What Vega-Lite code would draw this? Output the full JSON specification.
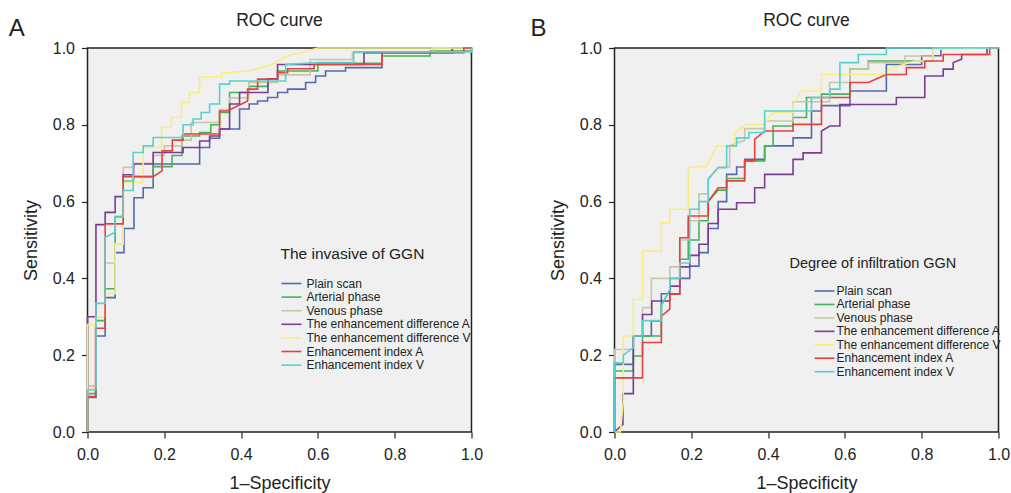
{
"$schema":"https://vega.github.io/schema/vega-lite/v6.json",
"background":"white",
"padding":{"left":7.5,"top":11,"right":0,"bottom":0},
"spacing":143,
"bounds":"flush",
"config":{
 "font":"Liberation Sans",
 "view":{"fill":"#f0f0f0","stroke":"#222222","strokeWidth":1.5},
 "axis":{"grid":false,"domain":false,"tickColor":"#222222","tickSize":6,"tickWidth":1.2,"labelFontSize":16,"labelColor":"#222222","titleFontSize":18,"titleFontWeight":"normal","titleColor":"#222222","labelPadding":7,"labelFlush":false},
 "legend":{"titleFontWeight":"normal","titleColor":"#222222","labelColor":"#222222","labelFontSize":12,"labelLimit":400,"symbolSize":100,"symbolStrokeWidth":1.6,"padding":0}
},
"resolve":{"scale":{"color":"independent"},"legend":{"color":"independent"}},
"datasets":{
"A":[
{"s":"Plain scan","i":0,"fpr":0,"tpr":0},{"s":"Plain scan","i":1,"fpr":0,"tpr":0.09},{"s":"Plain scan","i":2,"fpr":0.022,"tpr":0.09},{"s":"Plain scan","i":3,"fpr":0.022,"tpr":0.25},{"s":"Plain scan","i":4,"fpr":0.046,"tpr":0.25},{"s":"Plain scan","i":5,"fpr":0.046,"tpr":0.35},{"s":"Plain scan","i":6,"fpr":0.072,"tpr":0.35},{"s":"Plain scan","i":7,"fpr":0.072,"tpr":0.467},{"s":"Plain scan","i":8,"fpr":0.095,"tpr":0.467},{"s":"Plain scan","i":9,"fpr":0.095,"tpr":0.53},{"s":"Plain scan","i":10,"fpr":0.121,"tpr":0.53},{"s":"Plain scan","i":11,"fpr":0.121,"tpr":0.61},{"s":"Plain scan","i":12,"fpr":0.145,"tpr":0.61},{"s":"Plain scan","i":13,"fpr":0.145,"tpr":0.636},{"s":"Plain scan","i":14,"fpr":0.171,"tpr":0.636},{"s":"Plain scan","i":15,"fpr":0.171,"tpr":0.698},{"s":"Plain scan","i":16,"fpr":0.292,"tpr":0.698},{"s":"Plain scan","i":17,"fpr":0.292,"tpr":0.741},{"s":"Plain scan","i":18,"fpr":0.318,"tpr":0.741},{"s":"Plain scan","i":19,"fpr":0.318,"tpr":0.765},{"s":"Plain scan","i":20,"fpr":0.344,"tpr":0.765},{"s":"Plain scan","i":21,"fpr":0.344,"tpr":0.789},{"s":"Plain scan","i":22,"fpr":0.396,"tpr":0.789},{"s":"Plain scan","i":23,"fpr":0.396,"tpr":0.841},{"s":"Plain scan","i":24,"fpr":0.421,"tpr":0.841},{"s":"Plain scan","i":25,"fpr":0.421,"tpr":0.854},{"s":"Plain scan","i":26,"fpr":0.443,"tpr":0.854},{"s":"Plain scan","i":27,"fpr":0.443,"tpr":0.862},{"s":"Plain scan","i":28,"fpr":0.469,"tpr":0.862},{"s":"Plain scan","i":29,"fpr":0.469,"tpr":0.871},{"s":"Plain scan","i":30,"fpr":0.495,"tpr":0.871},{"s":"Plain scan","i":31,"fpr":0.495,"tpr":0.884},{"s":"Plain scan","i":32,"fpr":0.521,"tpr":0.884},{"s":"Plain scan","i":33,"fpr":0.521,"tpr":0.893},{"s":"Plain scan","i":34,"fpr":0.568,"tpr":0.893},{"s":"Plain scan","i":35,"fpr":0.568,"tpr":0.91},{"s":"Plain scan","i":36,"fpr":0.594,"tpr":0.91},{"s":"Plain scan","i":37,"fpr":0.594,"tpr":0.927},{"s":"Plain scan","i":38,"fpr":0.62,"tpr":0.927},{"s":"Plain scan","i":39,"fpr":0.62,"tpr":0.94},{"s":"Plain scan","i":40,"fpr":0.672,"tpr":0.94},{"s":"Plain scan","i":41,"fpr":0.672,"tpr":0.949},{"s":"Plain scan","i":42,"fpr":0.767,"tpr":0.949},{"s":"Plain scan","i":43,"fpr":0.767,"tpr":0.99},{"s":"Plain scan","i":44,"fpr":0.95,"tpr":0.99},{"s":"Plain scan","i":45,"fpr":0.95,"tpr":1},{"s":"Plain scan","i":46,"fpr":1,"tpr":1},
{"s":"Arterial phase","i":0,"fpr":0,"tpr":0},{"s":"Arterial phase","i":1,"fpr":0,"tpr":0.1},{"s":"Arterial phase","i":2,"fpr":0.022,"tpr":0.1},{"s":"Arterial phase","i":3,"fpr":0.022,"tpr":0.29},{"s":"Arterial phase","i":4,"fpr":0.046,"tpr":0.29},{"s":"Arterial phase","i":5,"fpr":0.046,"tpr":0.373},{"s":"Arterial phase","i":6,"fpr":0.072,"tpr":0.373},{"s":"Arterial phase","i":7,"fpr":0.072,"tpr":0.561},{"s":"Arterial phase","i":8,"fpr":0.093,"tpr":0.561},{"s":"Arterial phase","i":9,"fpr":0.093,"tpr":0.653},{"s":"Arterial phase","i":10,"fpr":0.12,"tpr":0.653},{"s":"Arterial phase","i":11,"fpr":0.12,"tpr":0.665},{"s":"Arterial phase","i":12,"fpr":0.171,"tpr":0.665},{"s":"Arterial phase","i":13,"fpr":0.171,"tpr":0.691},{"s":"Arterial phase","i":14,"fpr":0.22,"tpr":0.691},{"s":"Arterial phase","i":15,"fpr":0.22,"tpr":0.72},{"s":"Arterial phase","i":16,"fpr":0.246,"tpr":0.72},{"s":"Arterial phase","i":17,"fpr":0.246,"tpr":0.771},{"s":"Arterial phase","i":18,"fpr":0.292,"tpr":0.771},{"s":"Arterial phase","i":19,"fpr":0.292,"tpr":0.78},{"s":"Arterial phase","i":20,"fpr":0.321,"tpr":0.78},{"s":"Arterial phase","i":21,"fpr":0.321,"tpr":0.8},{"s":"Arterial phase","i":22,"fpr":0.344,"tpr":0.8},{"s":"Arterial phase","i":23,"fpr":0.344,"tpr":0.832},{"s":"Arterial phase","i":24,"fpr":0.37,"tpr":0.832},{"s":"Arterial phase","i":25,"fpr":0.37,"tpr":0.884},{"s":"Arterial phase","i":26,"fpr":0.421,"tpr":0.884},{"s":"Arterial phase","i":27,"fpr":0.421,"tpr":0.9},{"s":"Arterial phase","i":28,"fpr":0.47,"tpr":0.9},{"s":"Arterial phase","i":29,"fpr":0.47,"tpr":0.92},{"s":"Arterial phase","i":30,"fpr":0.495,"tpr":0.92},{"s":"Arterial phase","i":31,"fpr":0.495,"tpr":0.94},{"s":"Arterial phase","i":32,"fpr":0.6,"tpr":0.94},{"s":"Arterial phase","i":33,"fpr":0.6,"tpr":0.96},{"s":"Arterial phase","i":34,"fpr":0.767,"tpr":0.96},{"s":"Arterial phase","i":35,"fpr":0.767,"tpr":0.979},{"s":"Arterial phase","i":36,"fpr":0.892,"tpr":0.979},{"s":"Arterial phase","i":37,"fpr":0.892,"tpr":0.992},{"s":"Arterial phase","i":38,"fpr":1,"tpr":0.992},{"s":"Arterial phase","i":39,"fpr":1,"tpr":1},
{"s":"Venous phase","i":0,"fpr":0,"tpr":0},{"s":"Venous phase","i":1,"fpr":0,"tpr":0.12},{"s":"Venous phase","i":2,"fpr":0.022,"tpr":0.12},{"s":"Venous phase","i":3,"fpr":0.022,"tpr":0.3},{"s":"Venous phase","i":4,"fpr":0.046,"tpr":0.3},{"s":"Venous phase","i":5,"fpr":0.046,"tpr":0.44},{"s":"Venous phase","i":6,"fpr":0.072,"tpr":0.44},{"s":"Venous phase","i":7,"fpr":0.072,"tpr":0.49},{"s":"Venous phase","i":8,"fpr":0.093,"tpr":0.49},{"s":"Venous phase","i":9,"fpr":0.093,"tpr":0.689},{"s":"Venous phase","i":10,"fpr":0.12,"tpr":0.689},{"s":"Venous phase","i":11,"fpr":0.12,"tpr":0.7},{"s":"Venous phase","i":12,"fpr":0.171,"tpr":0.7},{"s":"Venous phase","i":13,"fpr":0.171,"tpr":0.72},{"s":"Venous phase","i":14,"fpr":0.2,"tpr":0.72},{"s":"Venous phase","i":15,"fpr":0.2,"tpr":0.745},{"s":"Venous phase","i":16,"fpr":0.246,"tpr":0.745},{"s":"Venous phase","i":17,"fpr":0.246,"tpr":0.76},{"s":"Venous phase","i":18,"fpr":0.27,"tpr":0.76},{"s":"Venous phase","i":19,"fpr":0.27,"tpr":0.806},{"s":"Venous phase","i":20,"fpr":0.344,"tpr":0.806},{"s":"Venous phase","i":21,"fpr":0.344,"tpr":0.84},{"s":"Venous phase","i":22,"fpr":0.37,"tpr":0.84},{"s":"Venous phase","i":23,"fpr":0.37,"tpr":0.87},{"s":"Venous phase","i":24,"fpr":0.42,"tpr":0.87},{"s":"Venous phase","i":25,"fpr":0.42,"tpr":0.91},{"s":"Venous phase","i":26,"fpr":0.495,"tpr":0.91},{"s":"Venous phase","i":27,"fpr":0.495,"tpr":0.93},{"s":"Venous phase","i":28,"fpr":0.58,"tpr":0.93},{"s":"Venous phase","i":29,"fpr":0.58,"tpr":0.97},{"s":"Venous phase","i":30,"fpr":0.69,"tpr":0.97},{"s":"Venous phase","i":31,"fpr":0.69,"tpr":0.988},{"s":"Venous phase","i":32,"fpr":0.9,"tpr":0.988},{"s":"Venous phase","i":33,"fpr":0.9,"tpr":1},{"s":"Venous phase","i":34,"fpr":1,"tpr":1},
{"s":"The enhancement difference A","i":0,"fpr":0,"tpr":0},{"s":"The enhancement difference A","i":1,"fpr":0,"tpr":0.3},{"s":"The enhancement difference A","i":2,"fpr":0.022,"tpr":0.3},{"s":"The enhancement difference A","i":3,"fpr":0.022,"tpr":0.54},{"s":"The enhancement difference A","i":4,"fpr":0.046,"tpr":0.54},{"s":"The enhancement difference A","i":5,"fpr":0.046,"tpr":0.572},{"s":"The enhancement difference A","i":6,"fpr":0.072,"tpr":0.572},{"s":"The enhancement difference A","i":7,"fpr":0.072,"tpr":0.613},{"s":"The enhancement difference A","i":8,"fpr":0.093,"tpr":0.613},{"s":"The enhancement difference A","i":9,"fpr":0.093,"tpr":0.67},{"s":"The enhancement difference A","i":10,"fpr":0.12,"tpr":0.67},{"s":"The enhancement difference A","i":11,"fpr":0.12,"tpr":0.698},{"s":"The enhancement difference A","i":12,"fpr":0.171,"tpr":0.698},{"s":"The enhancement difference A","i":13,"fpr":0.171,"tpr":0.728},{"s":"The enhancement difference A","i":14,"fpr":0.249,"tpr":0.728},{"s":"The enhancement difference A","i":15,"fpr":0.249,"tpr":0.741},{"s":"The enhancement difference A","i":16,"fpr":0.292,"tpr":0.741},{"s":"The enhancement difference A","i":17,"fpr":0.292,"tpr":0.758},{"s":"The enhancement difference A","i":18,"fpr":0.318,"tpr":0.758},{"s":"The enhancement difference A","i":19,"fpr":0.318,"tpr":0.771},{"s":"The enhancement difference A","i":20,"fpr":0.344,"tpr":0.771},{"s":"The enhancement difference A","i":21,"fpr":0.344,"tpr":0.789},{"s":"The enhancement difference A","i":22,"fpr":0.37,"tpr":0.789},{"s":"The enhancement difference A","i":23,"fpr":0.37,"tpr":0.854},{"s":"The enhancement difference A","i":24,"fpr":0.396,"tpr":0.854},{"s":"The enhancement difference A","i":25,"fpr":0.396,"tpr":0.884},{"s":"The enhancement difference A","i":26,"fpr":0.47,"tpr":0.884},{"s":"The enhancement difference A","i":27,"fpr":0.47,"tpr":0.92},{"s":"The enhancement difference A","i":28,"fpr":0.495,"tpr":0.92},{"s":"The enhancement difference A","i":29,"fpr":0.495,"tpr":0.957},{"s":"The enhancement difference A","i":30,"fpr":0.72,"tpr":0.957},{"s":"The enhancement difference A","i":31,"fpr":0.72,"tpr":0.988},{"s":"The enhancement difference A","i":32,"fpr":0.95,"tpr":0.988},{"s":"The enhancement difference A","i":33,"fpr":0.95,"tpr":1},{"s":"The enhancement difference A","i":34,"fpr":1,"tpr":1},
{"s":"The enhancement difference V","i":0,"fpr":0,"tpr":0},{"s":"The enhancement difference V","i":1,"fpr":0,"tpr":0.28},{"s":"The enhancement difference V","i":2,"fpr":0.022,"tpr":0.28},{"s":"The enhancement difference V","i":3,"fpr":0.022,"tpr":0.3},{"s":"The enhancement difference V","i":4,"fpr":0.046,"tpr":0.3},{"s":"The enhancement difference V","i":5,"fpr":0.046,"tpr":0.36},{"s":"The enhancement difference V","i":6,"fpr":0.072,"tpr":0.36},{"s":"The enhancement difference V","i":7,"fpr":0.072,"tpr":0.49},{"s":"The enhancement difference V","i":8,"fpr":0.093,"tpr":0.49},{"s":"The enhancement difference V","i":9,"fpr":0.093,"tpr":0.65},{"s":"The enhancement difference V","i":10,"fpr":0.145,"tpr":0.65},{"s":"The enhancement difference V","i":11,"fpr":0.145,"tpr":0.741},{"s":"The enhancement difference V","i":12,"fpr":0.193,"tpr":0.741},{"s":"The enhancement difference V","i":13,"fpr":0.193,"tpr":0.793},{"s":"The enhancement difference V","i":14,"fpr":0.218,"tpr":0.793},{"s":"The enhancement difference V","i":15,"fpr":0.218,"tpr":0.819},{"s":"The enhancement difference V","i":16,"fpr":0.245,"tpr":0.819},{"s":"The enhancement difference V","i":17,"fpr":0.245,"tpr":0.858},{"s":"The enhancement difference V","i":18,"fpr":0.265,"tpr":0.858},{"s":"The enhancement difference V","i":19,"fpr":0.265,"tpr":0.884},{"s":"The enhancement difference V","i":20,"fpr":0.292,"tpr":0.884},{"s":"The enhancement difference V","i":21,"fpr":0.292,"tpr":0.925},{"s":"The enhancement difference V","i":22,"fpr":0.35,"tpr":0.925},{"s":"The enhancement difference V","i":23,"fpr":0.35,"tpr":0.935},{"s":"The enhancement difference V","i":24,"fpr":0.42,"tpr":0.94},{"s":"The enhancement difference V","i":25,"fpr":0.48,"tpr":0.957},{"s":"The enhancement difference V","i":26,"fpr":0.52,"tpr":0.979},{"s":"The enhancement difference V","i":27,"fpr":0.573,"tpr":0.992},{"s":"The enhancement difference V","i":28,"fpr":0.6,"tpr":1},{"s":"The enhancement difference V","i":29,"fpr":1,"tpr":1},
{"s":"Enhancement index A","i":0,"fpr":0,"tpr":0},{"s":"Enhancement index A","i":1,"fpr":0,"tpr":0.092},{"s":"Enhancement index A","i":2,"fpr":0.021,"tpr":0.092},{"s":"Enhancement index A","i":3,"fpr":0.021,"tpr":0.27},{"s":"Enhancement index A","i":4,"fpr":0.046,"tpr":0.27},{"s":"Enhancement index A","i":5,"fpr":0.046,"tpr":0.542},{"s":"Enhancement index A","i":6,"fpr":0.093,"tpr":0.542},{"s":"Enhancement index A","i":7,"fpr":0.093,"tpr":0.665},{"s":"Enhancement index A","i":8,"fpr":0.171,"tpr":0.665},{"s":"Enhancement index A","i":9,"fpr":0.194,"tpr":0.68},{"s":"Enhancement index A","i":10,"fpr":0.194,"tpr":0.732},{"s":"Enhancement index A","i":11,"fpr":0.221,"tpr":0.732},{"s":"Enhancement index A","i":12,"fpr":0.221,"tpr":0.76},{"s":"Enhancement index A","i":13,"fpr":0.249,"tpr":0.76},{"s":"Enhancement index A","i":14,"fpr":0.249,"tpr":0.776},{"s":"Enhancement index A","i":15,"fpr":0.344,"tpr":0.776},{"s":"Enhancement index A","i":16,"fpr":0.344,"tpr":0.836},{"s":"Enhancement index A","i":17,"fpr":0.365,"tpr":0.836},{"s":"Enhancement index A","i":18,"fpr":0.417,"tpr":0.862},{"s":"Enhancement index A","i":19,"fpr":0.417,"tpr":0.893},{"s":"Enhancement index A","i":20,"fpr":0.443,"tpr":0.893},{"s":"Enhancement index A","i":21,"fpr":0.443,"tpr":0.919},{"s":"Enhancement index A","i":22,"fpr":0.495,"tpr":0.919},{"s":"Enhancement index A","i":23,"fpr":0.495,"tpr":0.936},{"s":"Enhancement index A","i":24,"fpr":0.521,"tpr":0.936},{"s":"Enhancement index A","i":25,"fpr":0.521,"tpr":0.946},{"s":"Enhancement index A","i":26,"fpr":0.59,"tpr":0.946},{"s":"Enhancement index A","i":27,"fpr":0.59,"tpr":0.957},{"s":"Enhancement index A","i":28,"fpr":0.767,"tpr":0.957},{"s":"Enhancement index A","i":29,"fpr":0.767,"tpr":0.988},{"s":"Enhancement index A","i":30,"fpr":0.98,"tpr":0.988},{"s":"Enhancement index A","i":31,"fpr":0.98,"tpr":1},{"s":"Enhancement index A","i":32,"fpr":1,"tpr":1},
{"s":"Enhancement index V","i":0,"fpr":0,"tpr":0},{"s":"Enhancement index V","i":1,"fpr":0,"tpr":0.11},{"s":"Enhancement index V","i":2,"fpr":0.022,"tpr":0.11},{"s":"Enhancement index V","i":3,"fpr":0.022,"tpr":0.335},{"s":"Enhancement index V","i":4,"fpr":0.046,"tpr":0.335},{"s":"Enhancement index V","i":5,"fpr":0.046,"tpr":0.507},{"s":"Enhancement index V","i":6,"fpr":0.072,"tpr":0.52},{"s":"Enhancement index V","i":7,"fpr":0.072,"tpr":0.56},{"s":"Enhancement index V","i":8,"fpr":0.093,"tpr":0.56},{"s":"Enhancement index V","i":9,"fpr":0.093,"tpr":0.629},{"s":"Enhancement index V","i":10,"fpr":0.119,"tpr":0.629},{"s":"Enhancement index V","i":11,"fpr":0.119,"tpr":0.728},{"s":"Enhancement index V","i":12,"fpr":0.145,"tpr":0.728},{"s":"Enhancement index V","i":13,"fpr":0.145,"tpr":0.745},{"s":"Enhancement index V","i":14,"fpr":0.171,"tpr":0.745},{"s":"Enhancement index V","i":15,"fpr":0.171,"tpr":0.767},{"s":"Enhancement index V","i":16,"fpr":0.249,"tpr":0.767},{"s":"Enhancement index V","i":17,"fpr":0.249,"tpr":0.8},{"s":"Enhancement index V","i":18,"fpr":0.275,"tpr":0.8},{"s":"Enhancement index V","i":19,"fpr":0.275,"tpr":0.815},{"s":"Enhancement index V","i":20,"fpr":0.296,"tpr":0.815},{"s":"Enhancement index V","i":21,"fpr":0.296,"tpr":0.832},{"s":"Enhancement index V","i":22,"fpr":0.318,"tpr":0.832},{"s":"Enhancement index V","i":23,"fpr":0.318,"tpr":0.854},{"s":"Enhancement index V","i":24,"fpr":0.344,"tpr":0.854},{"s":"Enhancement index V","i":25,"fpr":0.344,"tpr":0.906},{"s":"Enhancement index V","i":26,"fpr":0.37,"tpr":0.906},{"s":"Enhancement index V","i":27,"fpr":0.37,"tpr":0.914},{"s":"Enhancement index V","i":28,"fpr":0.516,"tpr":0.914},{"s":"Enhancement index V","i":29,"fpr":0.516,"tpr":0.957},{"s":"Enhancement index V","i":30,"fpr":0.6,"tpr":0.962},{"s":"Enhancement index V","i":31,"fpr":0.693,"tpr":0.962},{"s":"Enhancement index V","i":32,"fpr":0.693,"tpr":0.99},{"s":"Enhancement index V","i":33,"fpr":1,"tpr":0.99},{"s":"Enhancement index V","i":34,"fpr":1,"tpr":1}
],
"B":[
{"s":"Plain scan","i":0,"fpr":0,"tpr":0},{"s":"Plain scan","i":1,"fpr":0,"tpr":0.176},{"s":"Plain scan","i":2,"fpr":0.049,"tpr":0.176},{"s":"Plain scan","i":3,"fpr":0.049,"tpr":0.25},{"s":"Plain scan","i":4,"fpr":0.096,"tpr":0.25},{"s":"Plain scan","i":5,"fpr":0.096,"tpr":0.289},{"s":"Plain scan","i":6,"fpr":0.122,"tpr":0.289},{"s":"Plain scan","i":7,"fpr":0.122,"tpr":0.36},{"s":"Plain scan","i":8,"fpr":0.17,"tpr":0.36},{"s":"Plain scan","i":9,"fpr":0.17,"tpr":0.4},{"s":"Plain scan","i":10,"fpr":0.196,"tpr":0.4},{"s":"Plain scan","i":11,"fpr":0.196,"tpr":0.432},{"s":"Plain scan","i":12,"fpr":0.22,"tpr":0.432},{"s":"Plain scan","i":13,"fpr":0.22,"tpr":0.467},{"s":"Plain scan","i":14,"fpr":0.244,"tpr":0.467},{"s":"Plain scan","i":15,"fpr":0.244,"tpr":0.53},{"s":"Plain scan","i":16,"fpr":0.27,"tpr":0.53},{"s":"Plain scan","i":17,"fpr":0.27,"tpr":0.6},{"s":"Plain scan","i":18,"fpr":0.292,"tpr":0.6},{"s":"Plain scan","i":19,"fpr":0.292,"tpr":0.671},{"s":"Plain scan","i":20,"fpr":0.318,"tpr":0.671},{"s":"Plain scan","i":21,"fpr":0.318,"tpr":0.69},{"s":"Plain scan","i":22,"fpr":0.339,"tpr":0.69},{"s":"Plain scan","i":23,"fpr":0.339,"tpr":0.71},{"s":"Plain scan","i":24,"fpr":0.391,"tpr":0.71},{"s":"Plain scan","i":25,"fpr":0.391,"tpr":0.745},{"s":"Plain scan","i":26,"fpr":0.465,"tpr":0.745},{"s":"Plain scan","i":27,"fpr":0.465,"tpr":0.766},{"s":"Plain scan","i":28,"fpr":0.513,"tpr":0.766},{"s":"Plain scan","i":29,"fpr":0.513,"tpr":0.836},{"s":"Plain scan","i":30,"fpr":0.539,"tpr":0.836},{"s":"Plain scan","i":31,"fpr":0.539,"tpr":0.85},{"s":"Plain scan","i":32,"fpr":0.613,"tpr":0.85},{"s":"Plain scan","i":33,"fpr":0.613,"tpr":0.888},{"s":"Plain scan","i":34,"fpr":0.708,"tpr":0.888},{"s":"Plain scan","i":35,"fpr":0.708,"tpr":0.957},{"s":"Plain scan","i":36,"fpr":0.8,"tpr":0.957},{"s":"Plain scan","i":37,"fpr":0.8,"tpr":0.98},{"s":"Plain scan","i":38,"fpr":0.85,"tpr":0.98},{"s":"Plain scan","i":39,"fpr":0.85,"tpr":1},{"s":"Plain scan","i":40,"fpr":1,"tpr":1},
{"s":"Arterial phase","i":0,"fpr":0,"tpr":0},{"s":"Arterial phase","i":1,"fpr":0,"tpr":0.159},{"s":"Arterial phase","i":2,"fpr":0.049,"tpr":0.159},{"s":"Arterial phase","i":3,"fpr":0.049,"tpr":0.198},{"s":"Arterial phase","i":4,"fpr":0.073,"tpr":0.198},{"s":"Arterial phase","i":5,"fpr":0.073,"tpr":0.25},{"s":"Arterial phase","i":6,"fpr":0.122,"tpr":0.25},{"s":"Arterial phase","i":7,"fpr":0.122,"tpr":0.33},{"s":"Arterial phase","i":8,"fpr":0.144,"tpr":0.37},{"s":"Arterial phase","i":9,"fpr":0.144,"tpr":0.4},{"s":"Arterial phase","i":10,"fpr":0.17,"tpr":0.4},{"s":"Arterial phase","i":11,"fpr":0.17,"tpr":0.45},{"s":"Arterial phase","i":12,"fpr":0.192,"tpr":0.45},{"s":"Arterial phase","i":13,"fpr":0.192,"tpr":0.5},{"s":"Arterial phase","i":14,"fpr":0.22,"tpr":0.5},{"s":"Arterial phase","i":15,"fpr":0.22,"tpr":0.55},{"s":"Arterial phase","i":16,"fpr":0.244,"tpr":0.55},{"s":"Arterial phase","i":17,"fpr":0.244,"tpr":0.6},{"s":"Arterial phase","i":18,"fpr":0.27,"tpr":0.63},{"s":"Arterial phase","i":19,"fpr":0.292,"tpr":0.63},{"s":"Arterial phase","i":20,"fpr":0.292,"tpr":0.66},{"s":"Arterial phase","i":21,"fpr":0.339,"tpr":0.66},{"s":"Arterial phase","i":22,"fpr":0.339,"tpr":0.706},{"s":"Arterial phase","i":23,"fpr":0.391,"tpr":0.706},{"s":"Arterial phase","i":24,"fpr":0.391,"tpr":0.745},{"s":"Arterial phase","i":25,"fpr":0.413,"tpr":0.745},{"s":"Arterial phase","i":26,"fpr":0.413,"tpr":0.797},{"s":"Arterial phase","i":27,"fpr":0.465,"tpr":0.797},{"s":"Arterial phase","i":28,"fpr":0.465,"tpr":0.819},{"s":"Arterial phase","i":29,"fpr":0.5,"tpr":0.819},{"s":"Arterial phase","i":30,"fpr":0.5,"tpr":0.871},{"s":"Arterial phase","i":31,"fpr":0.539,"tpr":0.871},{"s":"Arterial phase","i":32,"fpr":0.539,"tpr":0.88},{"s":"Arterial phase","i":33,"fpr":0.613,"tpr":0.88},{"s":"Arterial phase","i":34,"fpr":0.613,"tpr":0.945},{"s":"Arterial phase","i":35,"fpr":0.661,"tpr":0.945},{"s":"Arterial phase","i":36,"fpr":0.661,"tpr":0.966},{"s":"Arterial phase","i":37,"fpr":0.83,"tpr":0.966},{"s":"Arterial phase","i":38,"fpr":0.83,"tpr":1},{"s":"Arterial phase","i":39,"fpr":1,"tpr":1},
{"s":"Venous phase","i":0,"fpr":0,"tpr":0},{"s":"Venous phase","i":1,"fpr":0,"tpr":0.215},{"s":"Venous phase","i":2,"fpr":0.049,"tpr":0.215},{"s":"Venous phase","i":3,"fpr":0.049,"tpr":0.25},{"s":"Venous phase","i":4,"fpr":0.073,"tpr":0.25},{"s":"Venous phase","i":5,"fpr":0.073,"tpr":0.324},{"s":"Venous phase","i":6,"fpr":0.096,"tpr":0.324},{"s":"Venous phase","i":7,"fpr":0.096,"tpr":0.4},{"s":"Venous phase","i":8,"fpr":0.144,"tpr":0.4},{"s":"Venous phase","i":9,"fpr":0.144,"tpr":0.43},{"s":"Venous phase","i":10,"fpr":0.17,"tpr":0.43},{"s":"Venous phase","i":11,"fpr":0.17,"tpr":0.5},{"s":"Venous phase","i":12,"fpr":0.192,"tpr":0.5},{"s":"Venous phase","i":13,"fpr":0.192,"tpr":0.55},{"s":"Venous phase","i":14,"fpr":0.22,"tpr":0.55},{"s":"Venous phase","i":15,"fpr":0.22,"tpr":0.62},{"s":"Venous phase","i":16,"fpr":0.244,"tpr":0.62},{"s":"Venous phase","i":17,"fpr":0.244,"tpr":0.66},{"s":"Venous phase","i":18,"fpr":0.27,"tpr":0.69},{"s":"Venous phase","i":19,"fpr":0.3,"tpr":0.69},{"s":"Venous phase","i":20,"fpr":0.3,"tpr":0.745},{"s":"Venous phase","i":21,"fpr":0.339,"tpr":0.76},{"s":"Venous phase","i":22,"fpr":0.339,"tpr":0.79},{"s":"Venous phase","i":23,"fpr":0.391,"tpr":0.79},{"s":"Venous phase","i":24,"fpr":0.391,"tpr":0.81},{"s":"Venous phase","i":25,"fpr":0.465,"tpr":0.81},{"s":"Venous phase","i":26,"fpr":0.465,"tpr":0.86},{"s":"Venous phase","i":27,"fpr":0.56,"tpr":0.86},{"s":"Venous phase","i":28,"fpr":0.56,"tpr":0.91},{"s":"Venous phase","i":29,"fpr":0.613,"tpr":0.91},{"s":"Venous phase","i":30,"fpr":0.613,"tpr":0.945},{"s":"Venous phase","i":31,"fpr":0.661,"tpr":0.945},{"s":"Venous phase","i":32,"fpr":0.661,"tpr":0.962},{"s":"Venous phase","i":33,"fpr":0.756,"tpr":0.962},{"s":"Venous phase","i":34,"fpr":0.756,"tpr":0.979},{"s":"Venous phase","i":35,"fpr":0.83,"tpr":0.979},{"s":"Venous phase","i":36,"fpr":0.83,"tpr":1},{"s":"Venous phase","i":37,"fpr":1,"tpr":1},
{"s":"The enhancement difference A","i":0,"fpr":0,"tpr":0},{"s":"The enhancement difference A","i":1,"fpr":0.022,"tpr":0.02},{"s":"The enhancement difference A","i":2,"fpr":0.022,"tpr":0.1},{"s":"The enhancement difference A","i":3,"fpr":0.049,"tpr":0.1},{"s":"The enhancement difference A","i":4,"fpr":0.049,"tpr":0.25},{"s":"The enhancement difference A","i":5,"fpr":0.073,"tpr":0.25},{"s":"The enhancement difference A","i":6,"fpr":0.073,"tpr":0.306},{"s":"The enhancement difference A","i":7,"fpr":0.097,"tpr":0.306},{"s":"The enhancement difference A","i":8,"fpr":0.097,"tpr":0.341},{"s":"The enhancement difference A","i":9,"fpr":0.144,"tpr":0.341},{"s":"The enhancement difference A","i":10,"fpr":0.144,"tpr":0.38},{"s":"The enhancement difference A","i":11,"fpr":0.17,"tpr":0.38},{"s":"The enhancement difference A","i":12,"fpr":0.17,"tpr":0.43},{"s":"The enhancement difference A","i":13,"fpr":0.196,"tpr":0.43},{"s":"The enhancement difference A","i":14,"fpr":0.196,"tpr":0.46},{"s":"The enhancement difference A","i":15,"fpr":0.22,"tpr":0.46},{"s":"The enhancement difference A","i":16,"fpr":0.22,"tpr":0.489},{"s":"The enhancement difference A","i":17,"fpr":0.244,"tpr":0.489},{"s":"The enhancement difference A","i":18,"fpr":0.244,"tpr":0.543},{"s":"The enhancement difference A","i":19,"fpr":0.27,"tpr":0.543},{"s":"The enhancement difference A","i":20,"fpr":0.27,"tpr":0.58},{"s":"The enhancement difference A","i":21,"fpr":0.318,"tpr":0.58},{"s":"The enhancement difference A","i":22,"fpr":0.318,"tpr":0.597},{"s":"The enhancement difference A","i":23,"fpr":0.365,"tpr":0.597},{"s":"The enhancement difference A","i":24,"fpr":0.365,"tpr":0.636},{"s":"The enhancement difference A","i":25,"fpr":0.391,"tpr":0.636},{"s":"The enhancement difference A","i":26,"fpr":0.391,"tpr":0.671},{"s":"The enhancement difference A","i":27,"fpr":0.465,"tpr":0.671},{"s":"The enhancement difference A","i":28,"fpr":0.465,"tpr":0.71},{"s":"The enhancement difference A","i":29,"fpr":0.491,"tpr":0.71},{"s":"The enhancement difference A","i":30,"fpr":0.491,"tpr":0.727},{"s":"The enhancement difference A","i":31,"fpr":0.539,"tpr":0.727},{"s":"The enhancement difference A","i":32,"fpr":0.539,"tpr":0.784},{"s":"The enhancement difference A","i":33,"fpr":0.561,"tpr":0.797},{"s":"The enhancement difference A","i":34,"fpr":0.587,"tpr":0.797},{"s":"The enhancement difference A","i":35,"fpr":0.587,"tpr":0.853},{"s":"The enhancement difference A","i":36,"fpr":0.734,"tpr":0.853},{"s":"The enhancement difference A","i":37,"fpr":0.734,"tpr":0.871},{"s":"The enhancement difference A","i":38,"fpr":0.808,"tpr":0.871},{"s":"The enhancement difference A","i":39,"fpr":0.808,"tpr":0.927},{"s":"The enhancement difference A","i":40,"fpr":0.856,"tpr":0.927},{"s":"The enhancement difference A","i":41,"fpr":0.856,"tpr":0.945},{"s":"The enhancement difference A","i":42,"fpr":0.882,"tpr":0.945},{"s":"The enhancement difference A","i":43,"fpr":0.882,"tpr":0.962},{"s":"The enhancement difference A","i":44,"fpr":0.904,"tpr":0.971},{"s":"The enhancement difference A","i":45,"fpr":0.904,"tpr":0.983},{"s":"The enhancement difference A","i":46,"fpr":0.97,"tpr":0.983},{"s":"The enhancement difference A","i":47,"fpr":0.97,"tpr":1},{"s":"The enhancement difference A","i":48,"fpr":1,"tpr":1},
{"s":"The enhancement difference V","i":0,"fpr":0,"tpr":0},{"s":"The enhancement difference V","i":1,"fpr":0.015,"tpr":0},{"s":"The enhancement difference V","i":2,"fpr":0.023,"tpr":0.08},{"s":"The enhancement difference V","i":3,"fpr":0.023,"tpr":0.25},{"s":"The enhancement difference V","i":4,"fpr":0.049,"tpr":0.25},{"s":"The enhancement difference V","i":5,"fpr":0.049,"tpr":0.345},{"s":"The enhancement difference V","i":6,"fpr":0.073,"tpr":0.345},{"s":"The enhancement difference V","i":7,"fpr":0.073,"tpr":0.471},{"s":"The enhancement difference V","i":8,"fpr":0.122,"tpr":0.471},{"s":"The enhancement difference V","i":9,"fpr":0.122,"tpr":0.545},{"s":"The enhancement difference V","i":10,"fpr":0.144,"tpr":0.545},{"s":"The enhancement difference V","i":11,"fpr":0.144,"tpr":0.58},{"s":"The enhancement difference V","i":12,"fpr":0.192,"tpr":0.58},{"s":"The enhancement difference V","i":13,"fpr":0.192,"tpr":0.688},{"s":"The enhancement difference V","i":14,"fpr":0.24,"tpr":0.693},{"s":"The enhancement difference V","i":15,"fpr":0.266,"tpr":0.745},{"s":"The enhancement difference V","i":16,"fpr":0.313,"tpr":0.745},{"s":"The enhancement difference V","i":17,"fpr":0.313,"tpr":0.779},{"s":"The enhancement difference V","i":18,"fpr":0.344,"tpr":0.801},{"s":"The enhancement difference V","i":19,"fpr":0.387,"tpr":0.801},{"s":"The enhancement difference V","i":20,"fpr":0.413,"tpr":0.832},{"s":"The enhancement difference V","i":21,"fpr":0.465,"tpr":0.832},{"s":"The enhancement difference V","i":22,"fpr":0.465,"tpr":0.853},{"s":"The enhancement difference V","i":23,"fpr":0.487,"tpr":0.888},{"s":"The enhancement difference V","i":24,"fpr":0.539,"tpr":0.888},{"s":"The enhancement difference V","i":25,"fpr":0.539,"tpr":0.931},{"s":"The enhancement difference V","i":26,"fpr":0.713,"tpr":0.931},{"s":"The enhancement difference V","i":27,"fpr":0.713,"tpr":0.945},{"s":"The enhancement difference V","i":28,"fpr":0.782,"tpr":0.966},{"s":"The enhancement difference V","i":29,"fpr":0.83,"tpr":0.966},{"s":"The enhancement difference V","i":30,"fpr":0.83,"tpr":0.997},{"s":"The enhancement difference V","i":31,"fpr":1,"tpr":1},
{"s":"Enhancement index A","i":0,"fpr":0,"tpr":0},{"s":"Enhancement index A","i":1,"fpr":0,"tpr":0.141},{"s":"Enhancement index A","i":2,"fpr":0.073,"tpr":0.141},{"s":"Enhancement index A","i":3,"fpr":0.073,"tpr":0.233},{"s":"Enhancement index A","i":4,"fpr":0.122,"tpr":0.233},{"s":"Enhancement index A","i":5,"fpr":0.122,"tpr":0.302},{"s":"Enhancement index A","i":6,"fpr":0.144,"tpr":0.32},{"s":"Enhancement index A","i":7,"fpr":0.144,"tpr":0.359},{"s":"Enhancement index A","i":8,"fpr":0.17,"tpr":0.359},{"s":"Enhancement index A","i":9,"fpr":0.17,"tpr":0.506},{"s":"Enhancement index A","i":10,"fpr":0.192,"tpr":0.506},{"s":"Enhancement index A","i":11,"fpr":0.192,"tpr":0.5625},{"s":"Enhancement index A","i":12,"fpr":0.244,"tpr":0.5625},{"s":"Enhancement index A","i":13,"fpr":0.244,"tpr":0.6},{"s":"Enhancement index A","i":14,"fpr":0.27,"tpr":0.636},{"s":"Enhancement index A","i":15,"fpr":0.292,"tpr":0.636},{"s":"Enhancement index A","i":16,"fpr":0.292,"tpr":0.654},{"s":"Enhancement index A","i":17,"fpr":0.339,"tpr":0.654},{"s":"Enhancement index A","i":18,"fpr":0.339,"tpr":0.706},{"s":"Enhancement index A","i":19,"fpr":0.365,"tpr":0.706},{"s":"Enhancement index A","i":20,"fpr":0.365,"tpr":0.762},{"s":"Enhancement index A","i":21,"fpr":0.391,"tpr":0.784},{"s":"Enhancement index A","i":22,"fpr":0.465,"tpr":0.784},{"s":"Enhancement index A","i":23,"fpr":0.465,"tpr":0.801},{"s":"Enhancement index A","i":24,"fpr":0.539,"tpr":0.801},{"s":"Enhancement index A","i":25,"fpr":0.539,"tpr":0.871},{"s":"Enhancement index A","i":26,"fpr":0.613,"tpr":0.871},{"s":"Enhancement index A","i":27,"fpr":0.613,"tpr":0.91},{"s":"Enhancement index A","i":28,"fpr":0.661,"tpr":0.91},{"s":"Enhancement index A","i":29,"fpr":0.708,"tpr":0.931},{"s":"Enhancement index A","i":30,"fpr":0.76,"tpr":0.931},{"s":"Enhancement index A","i":31,"fpr":0.76,"tpr":0.949},{"s":"Enhancement index A","i":32,"fpr":0.808,"tpr":0.949},{"s":"Enhancement index A","i":33,"fpr":0.808,"tpr":0.966},{"s":"Enhancement index A","i":34,"fpr":0.856,"tpr":0.966},{"s":"Enhancement index A","i":35,"fpr":0.856,"tpr":0.983},{"s":"Enhancement index A","i":36,"fpr":0.977,"tpr":0.983},{"s":"Enhancement index A","i":37,"fpr":0.977,"tpr":1},{"s":"Enhancement index A","i":38,"fpr":1,"tpr":1},
{"s":"Enhancement index V","i":0,"fpr":0,"tpr":0},{"s":"Enhancement index V","i":1,"fpr":0,"tpr":0.18},{"s":"Enhancement index V","i":2,"fpr":0.023,"tpr":0.18},{"s":"Enhancement index V","i":3,"fpr":0.023,"tpr":0.2},{"s":"Enhancement index V","i":4,"fpr":0.049,"tpr":0.22},{"s":"Enhancement index V","i":5,"fpr":0.049,"tpr":0.25},{"s":"Enhancement index V","i":6,"fpr":0.073,"tpr":0.25},{"s":"Enhancement index V","i":7,"fpr":0.073,"tpr":0.29},{"s":"Enhancement index V","i":8,"fpr":0.122,"tpr":0.29},{"s":"Enhancement index V","i":9,"fpr":0.122,"tpr":0.33},{"s":"Enhancement index V","i":10,"fpr":0.144,"tpr":0.37},{"s":"Enhancement index V","i":11,"fpr":0.144,"tpr":0.4},{"s":"Enhancement index V","i":12,"fpr":0.17,"tpr":0.4},{"s":"Enhancement index V","i":13,"fpr":0.17,"tpr":0.44},{"s":"Enhancement index V","i":14,"fpr":0.196,"tpr":0.44},{"s":"Enhancement index V","i":15,"fpr":0.196,"tpr":0.58},{"s":"Enhancement index V","i":16,"fpr":0.22,"tpr":0.58},{"s":"Enhancement index V","i":17,"fpr":0.22,"tpr":0.6},{"s":"Enhancement index V","i":18,"fpr":0.244,"tpr":0.6},{"s":"Enhancement index V","i":19,"fpr":0.244,"tpr":0.658},{"s":"Enhancement index V","i":20,"fpr":0.27,"tpr":0.688},{"s":"Enhancement index V","i":21,"fpr":0.292,"tpr":0.688},{"s":"Enhancement index V","i":22,"fpr":0.292,"tpr":0.745},{"s":"Enhancement index V","i":23,"fpr":0.318,"tpr":0.745},{"s":"Enhancement index V","i":24,"fpr":0.318,"tpr":0.766},{"s":"Enhancement index V","i":25,"fpr":0.35,"tpr":0.766},{"s":"Enhancement index V","i":26,"fpr":0.35,"tpr":0.78},{"s":"Enhancement index V","i":27,"fpr":0.391,"tpr":0.78},{"s":"Enhancement index V","i":28,"fpr":0.391,"tpr":0.836},{"s":"Enhancement index V","i":29,"fpr":0.513,"tpr":0.836},{"s":"Enhancement index V","i":30,"fpr":0.513,"tpr":0.871},{"s":"Enhancement index V","i":31,"fpr":0.561,"tpr":0.871},{"s":"Enhancement index V","i":32,"fpr":0.561,"tpr":0.893},{"s":"Enhancement index V","i":33,"fpr":0.587,"tpr":0.893},{"s":"Enhancement index V","i":34,"fpr":0.587,"tpr":0.962},{"s":"Enhancement index V","i":35,"fpr":0.635,"tpr":0.962},{"s":"Enhancement index V","i":36,"fpr":0.635,"tpr":0.983},{"s":"Enhancement index V","i":37,"fpr":0.708,"tpr":0.983},{"s":"Enhancement index V","i":38,"fpr":0.708,"tpr":1},{"s":"Enhancement index V","i":39,"fpr":1,"tpr":1}
]
},
"hconcat":[
{
 "width":384,"height":384,
 "layer":[
  {"data":{"name":"A"},
   "mark":{"type":"line","strokeWidth":1.6},
   "encoding":{
    "x":{"field":"fpr","type":"quantitative","scale":{"domain":[0,1],"nice":false},"axis":{"title":"1–Specificity","values":[0,0.2,0.4,0.6,0.8,1],"format":".1f","labelPadding":8,"titlePadding":12}},
    "y":{"field":"tpr","type":"quantitative","scale":{"domain":[0,1],"nice":false},"axis":{"title":"Sensitivity","values":[0,0.2,0.4,0.6,0.8,1],"format":".1f","titlePadding":12}},
    "color":{"field":"s","type":"nominal",
      "scale":{"domain":["Plain scan","Arterial phase","Venous phase","The enhancement difference A","The enhancement difference V","Enhancement index A","Enhancement index V"],"range":["#5568b0","#45b35a","#c8c6a8","#7a3d96","#f6ef80","#e8403c","#5acfd0"]},
      "legend":{"title":"The invasive of GGN","orient":"none","legendX":193,"legendY":199,"titleFontSize":15.5,"titlePadding":15,"symbolType":"M-1,0H3","labelOffset":14,"rowPadding":1.6}},
    "order":{"field":"i","type":"quantitative"}
   }},
  {"data":{"values":[{"label":"A"}]},
   "mark":{"type":"text","fontSize":24,"color":"#222222"},
   "encoding":{"x":{"datum":-0.184},"y":{"datum":1.05},"text":{"field":"label","type":"nominal"}}},
  {"data":{"values":[{"heading":"ROC curve"}]},
   "mark":{"type":"text","fontSize":17.5,"color":"#222222"},
   "encoding":{"x":{"datum":0.5},"y":{"datum":1.0703},"text":{"field":"heading","type":"nominal"}}}
 ]
},
{
 "width":384,"height":384,
 "layer":[
  {"data":{"name":"B"},
   "mark":{"type":"line","strokeWidth":1.6},
   "encoding":{
    "x":{"field":"fpr","type":"quantitative","scale":{"domain":[0,1],"nice":false},"axis":{"title":"1–Specificity","values":[0,0.2,0.4,0.6,0.8,1],"format":".1f","labelPadding":8,"titlePadding":12}},
    "y":{"field":"tpr","type":"quantitative","scale":{"domain":[0,1],"nice":false},"axis":{"title":"Sensitivity","values":[0,0.2,0.4,0.6,0.8,1],"format":".1f","titlePadding":12}},
    "color":{"field":"s","type":"nominal",
      "scale":{"domain":["Plain scan","Arterial phase","Venous phase","The enhancement difference A","The enhancement difference V","Enhancement index A","Enhancement index V"],"range":["#5568b0","#45b35a","#c8c6a8","#7a3d96","#f6ef80","#e8403c","#5acfd0"]},
      "legend":{"title":"Degree of infiltration GGN","orient":"none","legendX":175,"legendY":209,"titleFontSize":14.5,"titlePadding":13.5,"symbolType":"M3.8,0H7.8","labelOffset":35,"rowPadding":1.45}},
    "order":{"field":"i","type":"quantitative"}
   }},
  {"data":{"values":[{"label":"B"}]},
   "mark":{"type":"text","fontSize":24,"color":"#222222"},
   "encoding":{"x":{"datum":-0.198},"y":{"datum":1.05},"text":{"field":"label","type":"nominal"}}},
  {"data":{"values":[{"heading":"ROC curve"}]},
   "mark":{"type":"text","fontSize":17.5,"color":"#222222"},
   "encoding":{"x":{"datum":0.5},"y":{"datum":1.0703},"text":{"field":"heading","type":"nominal"}}}
 ]
}
]
}
